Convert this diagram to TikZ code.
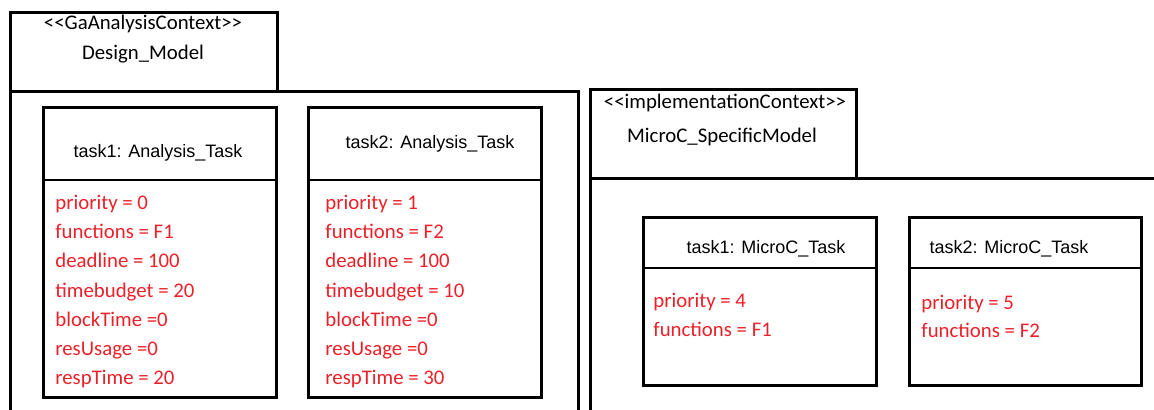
\documentclass[tikz,border=0pt]{standalone}
\usepackage{fontspec}
\setmainfont{Carlito}
\newfontfamily\arialfont{Liberation Sans}
\usepackage{xcolor}
\definecolor{attrred}{RGB}{236,32,40}
\newcommand{\stereo}[1]{<\kern0pt<#1>\kern0pt>}

\begin{document}
\begin{tikzpicture}[x=0.5pt,y=-0.5pt,
  frameline/.style={line width=1.5pt},
  sepline/.style={line width=0.8pt},
  lbl/.style={anchor=base,inner sep=0pt,font=\fontsize{10.4}{12}\selectfont},
  hdr/.style={anchor=base,inner sep=0pt,font=\arialfont\fontsize{9}{11}\selectfont},
  attr/.style={anchor=base west,inner sep=0pt,text=attrred,font=\fontsize{10.4}{12}\selectfont}]
\useasboundingbox (0,0) rectangle (1154,410);
% design model package
\draw[frameline] (10,410)--(10,13)--(277,13)--(277,92);
\draw[frameline] (10,92)--(578,92)--(578,410);
\node[lbl] (ctxa) at (143,30) {\stereo{GaAnalysisContext}};
\node[lbl] (ctxaname) at (143,60) {Design\_Model};
% analysis tasks
\draw[frameline] (43,108) rectangle (276,397);
\draw[sepline] (43,180)--(276,180);
\node[hdr] (taska) at (158,158) {task1: Analysis\_Task};
\foreach \txt [count=\i] in {priority = 0,functions = F1,deadline = 100,
  timebudget = 20,blockTime =0,resUsage =0,respTime = 20}
  \node[attr] (taska\i) at (55,{180.4+29.2*\i}) {\txt};
\draw[frameline] (308,108) rectangle (541,397);
\draw[sepline] (308,180)--(541,180);
\node[hdr] (taskb) at (430,149) {task2: Analysis\_Task};
\foreach \txt [count=\i] in {priority = 1,functions = F2,deadline = 100,
  timebudget = 10,blockTime =0,resUsage =0,respTime = 30}
  \node[attr] (taskb\i) at (325,{180.4+29.2*\i}) {\txt};
% microc package
\draw[frameline] (590,410)--(590,90)--(856,90)--(856,179);
\draw[frameline] (590,179)--(1154,179);
\node[lbl] (ctxb) at (725,109) {\stereo{implementationContext}};
\node[lbl] (ctxbname) at (722,143) {MicroC\_SpecificModel};
% microc tasks
\draw[frameline] (643,218) rectangle (876,386);
\draw[sepline] (643,268)--(876,268);
\node[hdr] (taskc) at (766,254) {task1: MicroC\_Task};
\node[attr] (taskc1) at (653,308) {priority = 4};
\node[attr] (taskc2) at (653,337) {functions = F1};
\draw[frameline] (909,218) rectangle (1141,386);
\draw[sepline] (909,268)--(1141,268);
\node[hdr] (taskd) at (1009,254) {task2: MicroC\_Task};
\node[attr] (taskd1) at (921,310) {priority = 5};
\node[attr] (taskd2) at (921,338) {functions = F2};
\end{tikzpicture}
\end{document}
